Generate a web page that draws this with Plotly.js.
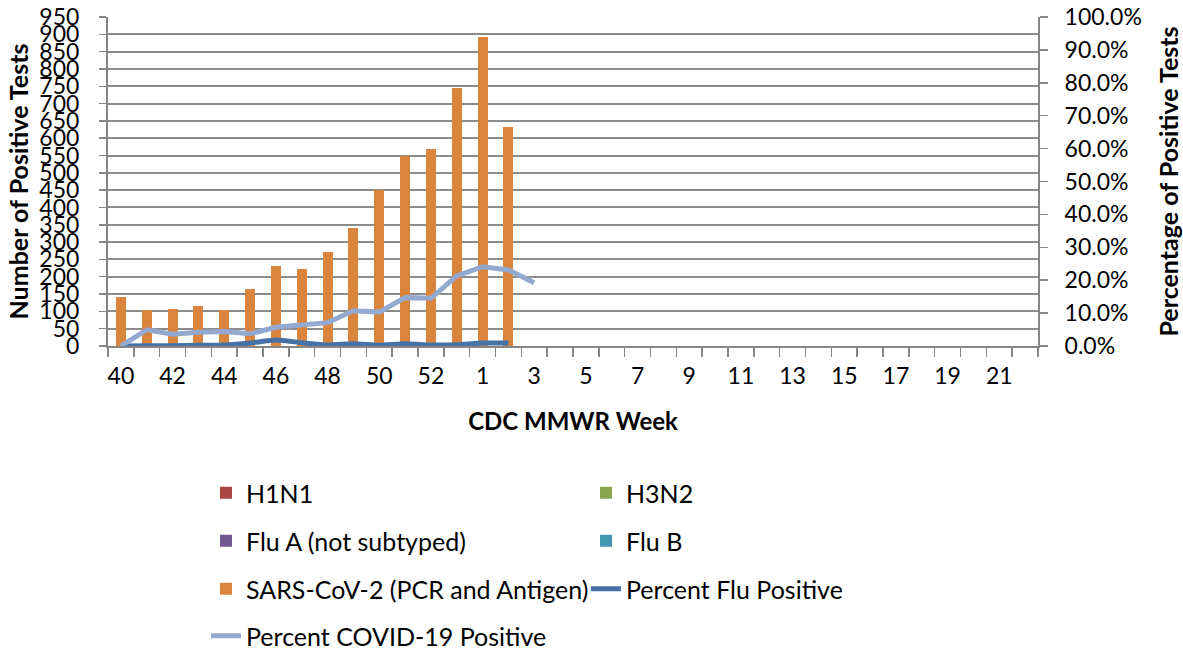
<!DOCTYPE html>
<html>
<head>
<meta charset="utf-8">
<script src="https://cdn.plot.ly/plotly-3.0.1.min.js"></script>
<style>html,body{margin:0;padding:0;background:#fff;}#chart{width:1183px;height:650px;}</style>
</head>
<body>
<div id="chart"></div>
<script>
// CDC MMWR weeks shown on the category axis
var weeks = ['40','41','42','43','44','45','46','47','48','49','50','51','52','53',
             '1','2','3','4','5','6','7','8','9','10','11','12','13','14','15','16','17','18','19','20','21','22'];
// weeks with reported counts (40 .. 2)
var countWeeks = ['40','41','42','43','44','45','46','47','48','49','50','51','52','53','1','2'];
var h1n1   = [0,0,0,0,0,0,0,0,0,0,0,0,0,0,0,0];
var h3n2   = [0,0,0,0,0,0,0,0,0,0,0,0,0,0,0,0];
var fluA   = [0,0,0,0,0,0,0,0,0,0,0,0,0,0,0,0];
var fluB   = [0,0,0,0,0,0,0,0,0,0,0,0,0,0,0,0];
var sarsCoV2 = [141,104,108,115,103,164,232,222,270,340,451,548,569,744,891,631];
// percent flu positive (weeks 40 .. 2)
var pctFlu = [0.000,0.001,0.001,0.002,0.003,0.009,0.018,0.010,0.003,0.007,0.002,0.007,0.003,0.004,0.009,0.009];
// percent COVID-19 positive (weeks 40 .. 3)
var covidWeeks = ['40','41','42','43','44','45','46','47','48','49','50','51','52','53','1','2','3'];
var pctCovid = [0.000,0.049,0.036,0.042,0.044,0.037,0.057,0.065,0.071,0.107,0.103,0.147,0.145,0.213,0.241,0.231,0.192];
// x tick labels: every other week
var tickLabels = weeks.map(function(w, i){ return i % 2 === 0 ? w : ''; });

var FONT = 'Lato, Carlito, "Liberation Sans", sans-serif';

var traces = [
  {type:'bar', name:'H1N1', x:countWeeks, y:h1n1, marker:{color:'#AA4643'}, legend:'legend'},
  {type:'bar', name:'H3N2', x:countWeeks, y:h3n2, marker:{color:'#89A54E'}, legend:'legend'},
  {type:'bar', name:'Flu A (not subtyped)', x:countWeeks, y:fluA, marker:{color:'#71588F'}, legend:'legend2'},
  {type:'bar', name:'Flu B', x:countWeeks, y:fluB, marker:{color:'#4198AF'}, legend:'legend2'},
  {type:'bar', name:'SARS-CoV-2 (PCR and Antigen)', x:countWeeks, y:sarsCoV2, marker:{color:'#DB843D'}, legend:'legend3'},
  {type:'scatter', mode:'lines', name:'Percent Flu Positive', x:countWeeks, y:pctFlu, yaxis:'y2',
   line:{color:'#4572A7', width:5, shape:'spline', smoothing:0.6}, legend:'legend3'},
  {type:'scatter', mode:'lines', name:'Percent COVID-19 Positive', x:covidWeeks, y:pctCovid, yaxis:'y2',
   line:{color:'#93A9CF', width:5}, legend:'legend4'}
];

function legendAt(yc){
  return {orientation:'h', xref:'container', yref:'container', x:206/1183, xanchor:'left',
          y:1 - yc/650, yanchor:'middle', entrywidth:335, entrywidthmode:'pixels',
          font:{family:FONT, size:25, color:'#000'}, bgcolor:'rgba(0,0,0,0)', traceorder:'normal'};
}

var layout = {
  width:1183, height:650,
  margin:{l:108, r:145, t:17, b:304},
  paper_bgcolor:'#fff', plot_bgcolor:'#fff',
  font:{family:FONT, size:23, color:'#000'},
  barmode:'stack', bargap:0.61,
  xaxis:{
    type:'category', categoryorder:'array', categoryarray:weeks,
    range:[-0.5, 35.5],
    tickmode:'array', tickvals:weeks, ticktext:tickLabels, tickangle:0,
    tickson:'boundaries', ticks:'outside', ticklen:9, tickcolor:'#868686', tickwidth:1.5,
    showline:true, linecolor:'#868686', linewidth:2, showgrid:false, zeroline:false,
    tickfont:{family:FONT, size:23, color:'#000'}, ticklabelstandoff:8,
    title:{text:'<b>CDC MMWR Week</b>', font:{family:FONT, size:24, color:'#000'}, standoff:26}
  },
  yaxis:{
    range:[0, 950], dtick:50, tick0:0,
    ticks:'outside', ticklen:7, tickcolor:'#868686', tickwidth:1.5,
    showline:true, linecolor:'#868686', linewidth:2,
    showgrid:true, gridcolor:'#8c8c8c', gridwidth:2, zeroline:false,
    tickfont:{family:FONT, size:23, color:'#000'}, ticklabelstandoff:15,
    title:{text:'<b>Number of Positive Tests</b>', font:{family:FONT, size:25, color:'#000'}, standoff:4}
  },
  yaxis2:{
    overlaying:'y', side:'right', range:[0, 1], dtick:0.1, tick0:0, tickformat:'.1%',
    ticks:'outside', ticklen:8, tickcolor:'#868686', tickwidth:1.5,
    showline:true, linecolor:'#868686', linewidth:2, showgrid:false, zeroline:false,
    tickfont:{family:FONT, size:23, color:'#000'}, ticklabelstandoff:12,
    title:{text:'<b>Percentage of Positive Tests</b>', font:{family:FONT, size:25, color:'#000'}, standoff:22}
  },
  legend:legendAt(493),
  legend2:legendAt(541),
  legend3:legendAt(589),
  legend4:legendAt(636),
  showlegend:true
};

Plotly.newPlot('chart', traces, layout, {displayModeBar:false, staticPlot:true});
</script>
</body>
</html>
